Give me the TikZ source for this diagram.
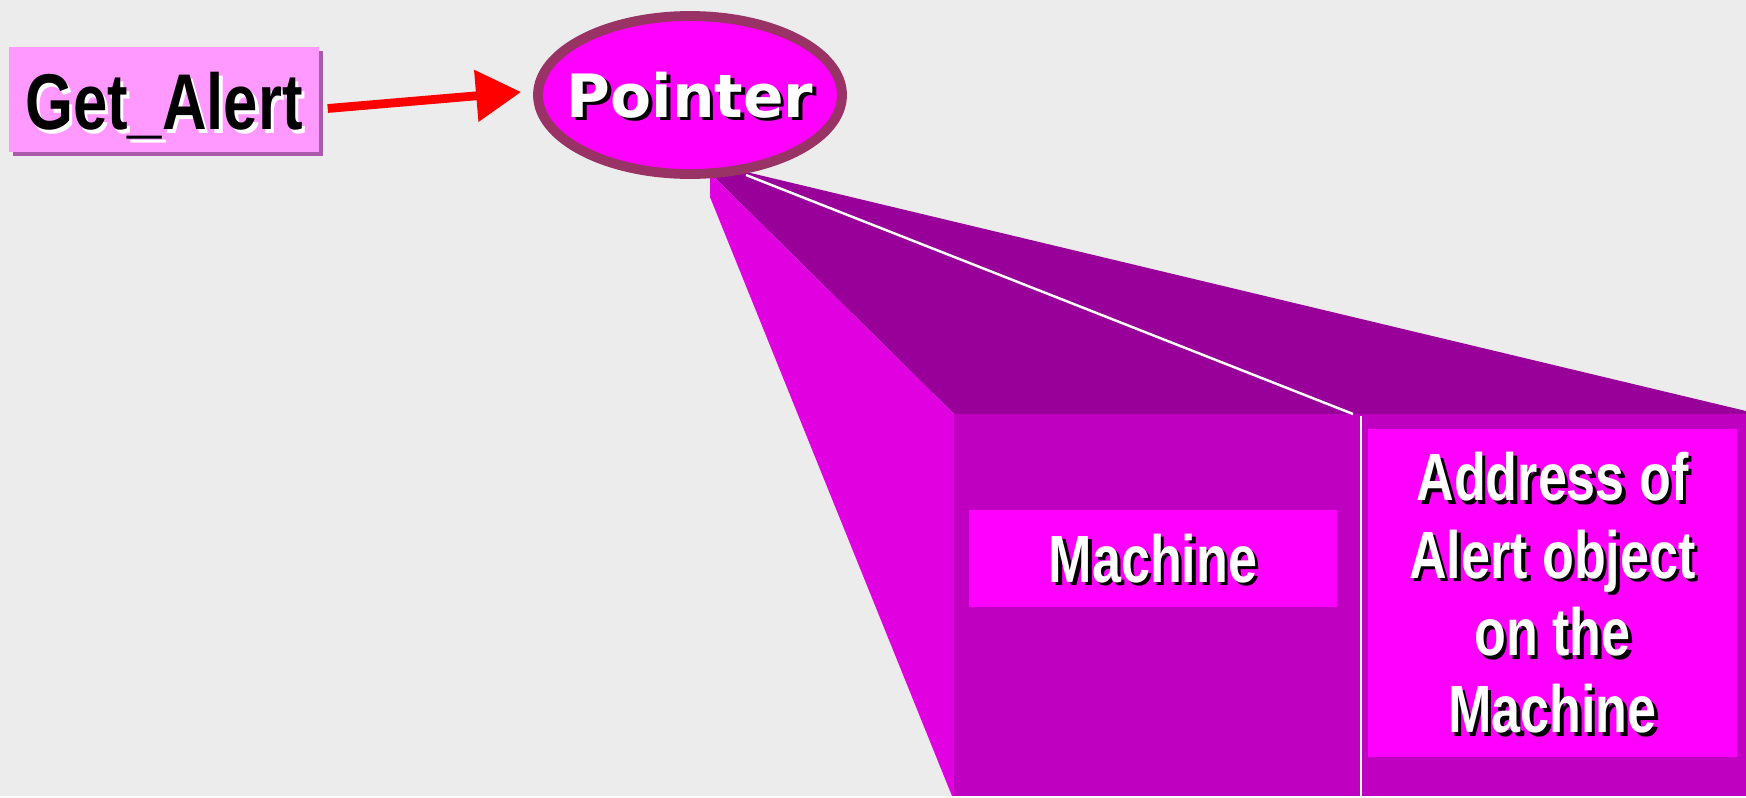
\documentclass[tikz,border=0pt]{standalone}
\usepackage{fontspec}
\newfontfamily\narrowfont[FakeStretch=0.78]{Liberation Sans}
\newfontfamily\widefont{DejaVu Sans}
\usetikzlibrary{arrows.meta,positioning,shapes.geometric,shadows}

\definecolor{paper}{RGB}{236,236,236}
\definecolor{lightface}{RGB}{224,0,224}
\definecolor{darkface}{RGB}{153,0,153}
\definecolor{frontface}{RGB}{192,0,192}
\definecolor{cellpink}{RGB}{255,0,255}
\definecolor{rimred}{RGB}{153,51,102}
\definecolor{boxpink}{RGB}{255,153,255}
\definecolor{boxshade}{RGB}{170,90,170}

\begin{document}
\begin{tikzpicture}[
  x=0.1mm, y=-0.1mm,
  lbl/.style={font=\narrowfont\bfseries\fontsize{19}{22}\selectfont, align=center, inner sep=0pt},
  getlbl/.style={font=\narrowfont\bfseries\fontsize{22.5}{26}\selectfont, inner sep=0pt},
  ptrlbl/.style={font=\widefont\bfseries\fontsize{17}{20}\selectfont, inner sep=0pt},
  shade/.style={xshift=1pt, yshift=-1pt},
  getbox/.style={fill=boxpink, minimum width=31mm, minimum height=10.5mm, inner sep=0pt,
    drop shadow={shadow xshift=1.1pt, shadow yshift=-1.1pt, fill=boxshade, opacity=1}},
  ptr/.style={ellipse, draw=rimred, line width=2.8pt, fill=cellpink, inner sep=0pt,
    minimum width=30.4mm, minimum height=15.8mm},
  cell/.style={fill=cellpink, inner sep=0pt},
  arr/.style={-{Triangle[length=4.5mm,width=5mm]}, red, line width=2.5pt},
  >=Latex
]
% background
\fill[paper] (0,0) rectangle (1746,796);

% the expanded record
\fill[darkface] (710,173) -- (738,170) -- (1746,411) -- (1746,414) -- (954,414) -- cycle;
\fill[lightface] (710,173) -- (710,197) -- (952,796) -- (954,796) -- (954,414) -- cycle;
\fill[frontface] (954,414) rectangle (1746,796);
\draw[white, line width=0.7pt] (746,175) -- (1353,414);
\draw[white, line width=0.7pt] (1361,416) -- (1361,796);

\node[cell, minimum width=36.8mm, minimum height=9.7mm] (machine) at (1153,558.5) {};
\node[cell, minimum width=36.9mm, minimum height=32.8mm] (address) at (1552.5,593) {};

\node[lbl, black, shade] at (machine) {Machine};
\node[lbl, white] at (machine) {Machine};
\node[lbl, black, shade] at (address) {Address of\\Alert object\\on the\\Machine};
\node[lbl, white] at (address) {Address of\\Alert object\\on the\\Machine};

% call and pointer
\node[getbox] (getalert) at (164,99.5) {};
\node[getlbl, white, shade, yshift=-1.8pt] at (getalert) {Get\_Alert};
\node[getlbl, black, yshift=-1.8pt] at (getalert) {Get\_Alert};

\node[ptr] (pointer) at (690,95) {};
\node[ptrlbl, black, shade] at (pointer) {Pointer};
\node[ptrlbl, white] at (pointer) {Pointer};

\draw[arr] ([shift={(8,9)}]getalert.east) -- ([shift={(-12,-3)}]pointer.west);
\end{tikzpicture}
\end{document}
